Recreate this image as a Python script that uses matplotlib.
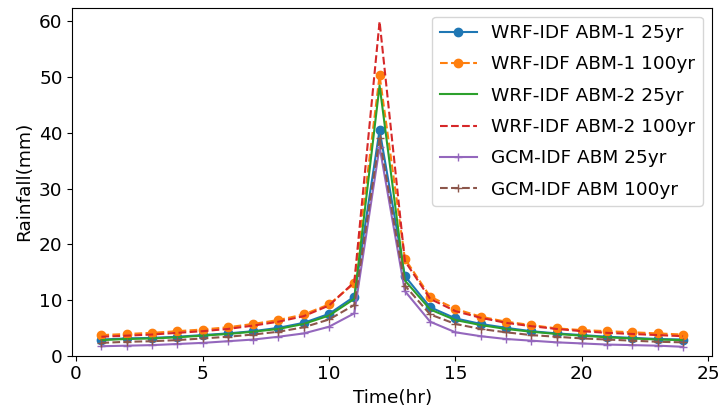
import matplotlib
matplotlib.use('Agg')
import matplotlib.pyplot as plt
import numpy as np

hours = list(range(1, 25))

wrf1_25 = [2.9, 3.1, 3.2, 3.4, 3.7, 4.0, 4.4, 5.0, 5.9, 7.5, 10.6, 40.5,
           14.3, 8.7, 6.7, 5.7, 5.0, 4.4, 4.0, 3.7, 3.4, 3.2, 3.0, 2.9]
wrf1_100 = [3.7, 3.9, 4.1, 4.4, 4.7, 5.1, 5.7, 6.4, 7.4, 9.2, 13.0, 50.3,
            17.4, 10.6, 8.4, 7.0, 6.1, 5.5, 4.9, 4.6, 4.4, 4.2, 4.0, 3.8]
wrf2_25 = [2.8, 3.0, 3.1, 3.3, 3.6, 3.9, 4.3, 4.8, 5.7, 7.2, 10.2, 48.5,
           13.5, 8.3, 6.4, 5.5, 4.8, 4.3, 3.9, 3.6, 3.3, 3.1, 2.9, 2.8]
wrf2_100 = [3.4, 3.6, 3.8, 4.1, 4.4, 4.8, 5.4, 6.1, 7.1, 9.0, 13.2, 60.0,
            17.0, 10.2, 8.0, 6.8, 5.9, 5.3, 4.8, 4.4, 4.1, 3.9, 3.7, 3.5]
gcm_25 = [1.7, 1.8, 1.9, 2.1, 2.3, 2.6, 2.9, 3.4, 4.0, 5.2, 7.6, 37.5,
          11.6, 6.1, 4.2, 3.5, 3.0, 2.7, 2.4, 2.2, 2.0, 1.9, 1.8, 1.6]
gcm_100 = [2.3, 2.5, 2.6, 2.8, 3.1, 3.4, 3.8, 4.3, 5.1, 6.5, 9.1, 39.0,
           12.6, 7.4, 5.7, 4.8, 4.2, 3.7, 3.4, 3.1, 2.9, 2.7, 2.5, 2.4]

plt.rcParams['font.size'] = 13.3

fig, ax = plt.subplots(figsize=(7.23, 4.17), dpi=100)
fig.subplots_adjust(left=0.1, right=0.985, top=0.982, bottom=0.147)

ax.plot(hours, wrf1_25, 'o-', label='WRF-IDF ABM-1 25yr')
ax.plot(hours, wrf1_100, 'o--', label='WRF-IDF ABM-1 100yr')
ax.plot(hours, wrf2_25, '-', label='WRF-IDF ABM-2 25yr')
ax.plot(hours, wrf2_100, '--', label='WRF-IDF ABM-2 100yr')
ax.plot(hours, gcm_25, '+-', label='GCM-IDF ABM 25yr')
ax.plot(hours, gcm_100, '+--', label='GCM-IDF ABM 100yr')

ax.set_ylim(0, 62.5)
ax.set_xticks([0, 5, 10, 15, 20, 25])
ax.legend(loc='upper right', labelspacing=0.72)
ax.set_xlabel('Time(hr)')
ax.set_ylabel('Rainfall(mm)')

plt.savefig('out.png')
